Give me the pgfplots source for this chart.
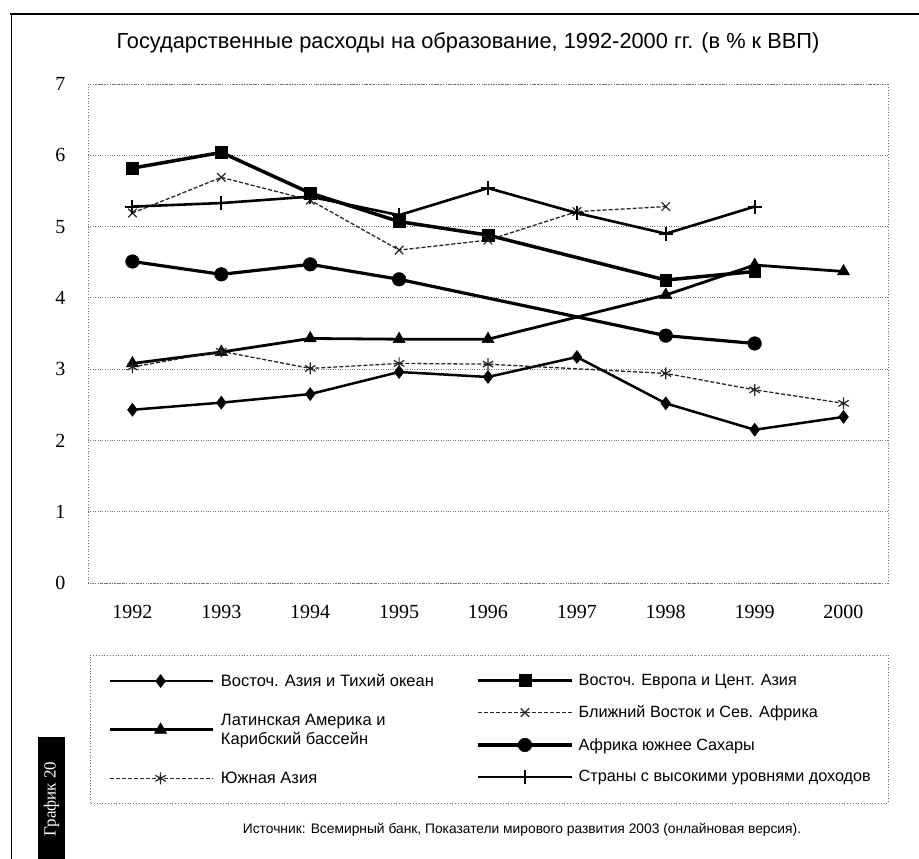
\documentclass[border=0pt]{standalone}
\usepackage{fontspec}
\setmainfont{Liberation Sans}
\newfontfamily\serifnum{Liberation Serif}
\usepackage{pgfplots}
\pgfplotsset{compat=1.18}

\pgfplotstableread{
x y
1992 2.43
1993 2.53
1994 2.65
1995 2.96
1996 2.89
1997 3.17
1998 2.52
1999 2.15
2000 2.33
}\eastasia
\pgfplotstableread{
x y
1992 5.82
1993 6.04
1994 5.47
1995 5.07
1996 4.88
1998 4.25
1999 4.37
}\easteurope
\pgfplotstableread{
x y
1992 3.08
1993 3.24
1994 3.43
1995 3.42
1996 3.42
1998 4.04
1999 4.46
2000 4.37
}\latam
\pgfplotstableread{
x y
1992 5.19
1993 5.69
1994 5.37
1995 4.67
1996 4.81
1997 5.21
1998 5.28
}\mideast
\pgfplotstableread{
x y
1992 3.03
1993 3.25
1994 3.01
1995 3.08
1996 3.07
1998 2.94
1999 2.71
2000 2.52
}\southasia
\pgfplotstableread{
x y
1992 4.51
1993 4.33
1994 4.47
1995 4.26
1998 3.47
1999 3.36
}\subsahara
\pgfplotstableread{
x y
1992 5.28
1993 5.33
1994 5.42
1995 5.16
1996 5.54
1997 5.19
1998 4.90
1999 5.28
}\highinc

\pgfplotsset{
 sEA/.style={black, line width=2.5pt, mark=diamond*, mark size=6.5pt, mark options={solid, line width=0.5pt}},
 sEE/.style={black, line width=3.5pt, mark=square*, mark size=5.8pt, mark options={solid, line width=0.5pt}},
 sLA/.style={black, line width=2.8pt, mark=triangle*, mark size=7pt, mark options={solid, line width=0.5pt}},
 sME/.style={black!85, line width=1.3pt, dash pattern=on 4pt off 2pt, mark=x, mark size=6pt, mark options={solid, line width=1.2pt}},
 sSA/.style={black!85, line width=1.3pt, dash pattern=on 4pt off 2pt, mark=asterisk, mark size=6pt, mark options={solid, line width=1.2pt}},
 sSS/.style={black, line width=3.2pt, mark=*, mark size=6.8pt, mark options={solid, line width=0.5pt}},
 sHI/.style={black, line width=2.6pt, mark=+, mark size=7pt, mark options={solid, line width=2pt}},
}

\begin{document}
\begin{tikzpicture}[x=1pt,y=1pt]
\path[use as bounding box] (0,0) rectangle (919,859);
% outer frame
\draw[line width=2.5pt] (10,845) -- (919,845);
\draw[line width=0.9pt] (11,845) -- (11,0);
% title
\node[font=\fontsize{21.8}{26}\selectfont] at (468,816) {Государственные расходы на образование, 1992-2000 гг. (в \% к ВВП)};

\begin{axis}[
 at={(88pt,276pt)}, anchor=south west, scale only axis,
 width=800pt, height=499pt,
 xmin=1991.5, xmax=2000.5, ymin=0, ymax=7,
 xtick={1992,...,2000}, ytick={0,...,7},
 major tick length=0pt,
 ymajorgrids, grid style={black!55, dotted, line width=0.8pt},
 axis line style={black!55, dotted, line width=0.8pt},
 ticklabel style={font=\serifnum\fontsize{20}{24}\selectfont},
 /pgf/number format/assume math mode=true,
 /pgf/number format/1000 sep={},
 xticklabel shift=19pt,
 yticklabel shift=19pt,
]
\addplot[sEA] table {\eastasia};
\addplot[sEE] table {\easteurope};
\addplot[sLA] table {\latam};
\addplot[sME] table {\mideast};
\addplot[sSA] table {\southasia};
\addplot[sSS] table {\subsahara};
\addplot[sHI] table {\highinc};
\end{axis}

% legend frame
\draw[black!60, dotted, line width=0.8pt] (90,56) rectangle (888,204);

% left legend column
\begin{axis}[
 at={(0pt,0pt)}, anchor=south west, scale only axis,
 width=919pt, height=859pt, xmin=0, xmax=919, ymin=0, ymax=859,
 hide axis,
 legend style={at={(108/919,187/859)}, anchor=north west, draw=none, fill=none,
   inner sep=0pt, row sep=22pt, column sep=5pt,
   font=\fontsize{16.5}{19}\selectfont, nodes={inner sep=2pt, align=left}},
 legend cell align=left,
 legend image code/.code={\draw[mark repeat=2,mark phase=2] plot coordinates {(0pt,0pt) (51pt,0pt) (103pt,0pt)};},
]
\addlegendimage{sEA}
\addlegendentry{Восточ. Азия и Тихий океан}
\addlegendimage{sLA}
\addlegendentry{Латинская Америка и\\Карибский бассейн}
\addlegendimage{sSA}
\addlegendentry{Южная Азия}
\end{axis}

% right legend column
\begin{axis}[
 at={(0pt,0pt)}, anchor=south west, scale only axis,
 width=919pt, height=859pt, xmin=0, xmax=919, ymin=0, ymax=859,
 hide axis,
 legend style={at={(476/919,187/859)}, anchor=north west, draw=none, fill=none,
   inner sep=0pt, row sep=15pt, column sep=3pt,
   font=\fontsize{16.2}{19}\selectfont, nodes={inner sep=2pt, align=left}},
 legend cell align=left,
 legend image code/.code={\draw[mark repeat=2,mark phase=2] plot coordinates {(0pt,0pt) (47pt,0pt) (94pt,0pt)};},
]
\addlegendimage{sEE}
\addlegendentry{Восточ. Европа и Цент. Азия}
\addlegendimage{sME}
\addlegendentry{Ближний Восток и Сев. Африка}
\addlegendimage{sSS}
\addlegendentry{Африка южнее Сахары}
\addlegendimage{sHI}
\addlegendentry{Страны с высокими уровнями доходов}
\end{axis}

% source
\node[font=\fontsize{13.8}{17}\selectfont] at (522,29) {Источник: Всемирный банк, Показатели мирового развития 2003 (онлайновая версия).};

% side label
\fill[black] (38,0) rectangle (65,122);
\node[rotate=90, text=white, font=\serifnum\fontsize{17}{20}\selectfont] at (51.5,60) {График 20};
\end{tikzpicture}
\end{document}
